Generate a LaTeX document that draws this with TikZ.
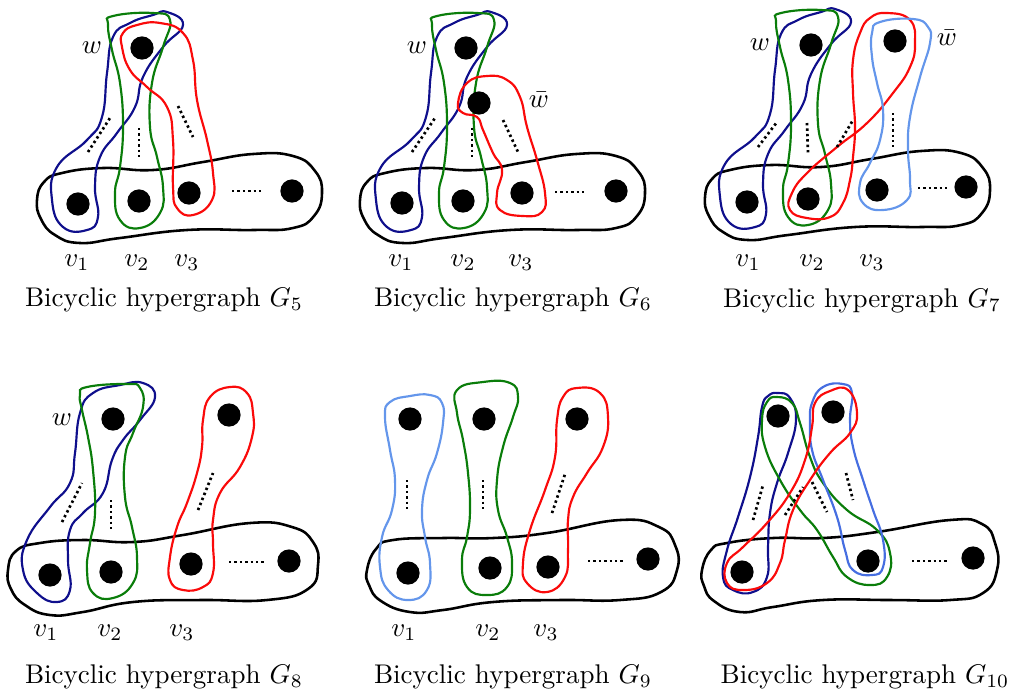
\documentclass[tikz,border=0pt]{standalone}
\usetikzlibrary{calc}
\definecolor{hblue}{RGB}{15,15,140}
\definecolor{hgreen}{RGB}{10,125,10}
\definecolor{hred}{RGB}{250,10,10}
\definecolor{hlight}{RGB}{100,150,235}
\definecolor{hroyal}{RGB}{70,110,225}
\tikzset{
  vert/.style={circle,fill=black,inner sep=0pt,minimum size=8.6pt},
  bigedge/.style={line width=0.95pt,black},
  hedge/.style={line width=0.8pt},
  dotline/.style={line width=1.0pt,dash pattern=on 0.9pt off 1.1pt},
  lbl/.style={inner sep=0pt},
  captxt/.style={inner sep=0pt},
  every plot/.style={smooth cycle,tension=0.8}
}
\begin{document}
\begin{tikzpicture}[x=0.37pt,y=-0.37pt]
\useasboundingbox (0,0) rectangle (1013,695);

% ---------------- G5 ----------------
\draw[bigedge] plot coordinates {(37,200)(44,182)(62,173)(103,168)(153,170)(203,162)(253,154)(293,156)(315,171)(322,193)(314,216)(293,228)(253,230)(187,230)(120,238)(80,243)(55,235)(41,219)};
\draw[hedge,hblue] plot coordinates {(183,25)(167,12)(153,15)(130,23)(113,37)(107,73)(102,117)(87,140)(57,167)(52,200)(63,227)(87,230)(98,217)(95,187)(100,157)(117,133)(135,107)(143,77)(163,47)};
\draw[hedge,hgreen] plot coordinates {(108,25)(113,16)(153,13)(170,20)(163,47)(152,83)(150,127)(157,157)(163,187)(160,213)(140,228)(120,220)(115,193)(120,167)(123,127)(120,83)(112,50)};
\draw[hedge,hred] plot coordinates {(123,33)(137,25)(160,23)(183,33)(193,60)(197,100)(207,140)(213,173)(212,200)(193,215)(177,208)(173,187)(173,140)(167,107)(147,87)(130,70)(122,47)};
\node[vert] (aw) at (142,48) {};
\node[vert] (a1) at (78,204) {};
\node[vert] (a2) at (139,201) {};
\node[vert] (a3) at (189,193) {};
\node[vert] (an) at (292,191) {};
\draw[dotline] (88,152) -- (110,118);
\draw[dotline] (139,128) -- (139,160);
\draw[dotline] (178,106) -- (193,137);
\draw[dotline] (232,191) -- (262,191);
\node[lbl] (awl) at (92,48) {$w$};
\node[lbl] (a1l) at (77,263) {$v_1$};
\node[lbl] (a2l) at (137,263) {$v_2$};
\node[lbl] (a3l) at (187,263) {$v_3$};
\node[captxt] (acap) at (164,300) {Bicyclic hypergraph $G_5$};

% ---------------- G6 ----------------
\begin{scope}[shift={(323,0)}]
\draw[bigedge] plot coordinates {(37,200)(44,182)(62,173)(103,168)(153,170)(203,162)(253,154)(293,156)(315,171)(322,193)(314,216)(293,228)(253,230)(187,230)(120,238)(80,243)(55,235)(41,219)};
\end{scope}
\begin{scope}[shift={(324,0)}]
\draw[hedge,hblue] plot coordinates {(183,25)(167,12)(153,15)(130,23)(113,37)(107,73)(102,117)(87,140)(57,167)(52,200)(63,227)(87,230)(98,217)(95,187)(100,157)(117,133)(135,107)(143,77)(163,47)};
\draw[hedge,hgreen] plot coordinates {(108,25)(113,16)(153,13)(170,20)(163,47)(152,83)(150,127)(157,157)(163,187)(160,213)(140,228)(120,220)(115,193)(120,167)(123,127)(120,83)(112,50)};
\end{scope}
\draw[hedge,hred] plot coordinates {(458,103)(467,83)(487,76)(507,80)(520,97)(527,127)(537,160)(545,193)(542,212)(523,216)(500,210)(497,193)(502,170)(493,153)(483,130)(477,117)(463,113)};
\node[vert] (bw) at (466,48) {};
\node[vert] (bb) at (479,103) {};
\node[vert] (b1) at (402,203) {};
\node[vert] (b2) at (463,201) {};
\node[vert] (b3) at (522,193) {};
\node[vert] (bn) at (616,191) {};
\draw[dotline] (412,152) -- (435,118);
\draw[dotline] (472,128) -- (472,159);
\draw[dotline] (503,120) -- (518,152);
\draw[dotline] (555,192) -- (586,192);
\node[lbl] (bwl) at (417,48) {$w$};
\node[lbl] (bbl) at (539,100) {$\bar{w}$};
\node[lbl] (b1l) at (401,263) {$v_1$};
\node[lbl] (b2l) at (463,263) {$v_2$};
\node[lbl] (b3l) at (521,263) {$v_3$};
\node[captxt] (bcap) at (513,300) {Bicyclic hypergraph $G_6$};

% ---------------- G7 ----------------
\begin{scope}[shift={(668,-3)}]
\draw[bigedge] plot coordinates {(37,200)(44,182)(62,173)(103,168)(153,170)(203,162)(253,154)(293,156)(315,171)(322,193)(314,216)(293,228)(253,230)(187,230)(120,238)(80,243)(55,235)(41,219)};
\draw[hedge,hblue] plot coordinates {(183,25)(167,12)(153,15)(130,23)(113,37)(107,73)(102,117)(87,140)(57,167)(52,200)(63,227)(87,230)(98,217)(95,187)(100,157)(117,133)(135,107)(143,77)(163,47)};
\draw[hedge,hgreen] plot coordinates {(108,25)(113,16)(153,13)(170,20)(163,47)(152,83)(150,127)(157,157)(163,187)(160,213)(140,228)(120,220)(115,193)(120,167)(123,127)(120,83)(112,50)};
\end{scope}
\draw[hedge,hred] plot coordinates {(887,13)(910,20)(915,43)(910,67)(893,93)(867,123)(837,147)(807,173)(792,193)(790,210)(807,218)(830,217)(843,203)(850,180)(853,157)(855,127)(853,93)(853,60)(860,33)(870,18)};
\draw[hedge,hlight] plot coordinates {(872,33)(880,22)(913,19)(928,27)(930,43)(920,77)(910,117)(908,150)(910,180)(907,200)(883,210)(863,203)(860,183)(870,163)(880,140)(883,110)(877,83)(872,57)};
\node[vert] (cw) at (811,45) {};
\node[vert] (cb) at (895,41) {};
\node[vert] (c1) at (747,202) {};
\node[vert] (c2) at (808,199) {};
\node[vert] (c3) at (877,190) {};
\node[vert] (cn) at (966,187) {};
\draw[dotline] (758,147) -- (777,122);
\draw[dotline] (807,123) -- (808,154);
\draw[dotline] (837,147) -- (853,120);
\draw[dotline] (893,113) -- (893,147);
\draw[dotline] (918,188) -- (947,188);
\node[lbl] (cwl) at (760,45) {$w$};
\node[lbl] (cbl) at (947,38) {$\bar{w}$};
\node[lbl] (c1l) at (748,263) {$v_1$};
\node[lbl] (c2l) at (812,263) {$v_2$};
\node[lbl] (c3l) at (872,263) {$v_3$};
\node[captxt] (ccap) at (862,301) {Bicyclic hypergraph $G_7$};

% ---------------- G8 ----------------
\draw[bigedge] plot coordinates {(8,570)(16,551)(40,543)(83,540)(133,542)(183,535)(250,523)(292,527)(313,542)(318,565)(308,589)(267,600)(200,600)(133,602)(83,612)(50,615)(25,605)(11,589)};
\draw[hedge,hblue] plot coordinates {(155,397)(143,383)(120,385)(93,393)(80,413)(75,453)(70,483)(50,507)(27,540)(23,570)(37,593)(57,602)(70,590)(68,560)(70,530)(83,513)(103,493)(112,460)(123,440)(140,420)};
\draw[hedge,hgreen] plot coordinates {(80,395)(87,387)(127,384)(140,388)(143,407)(133,433)(125,457)(125,497)(132,527)(137,557)(133,583)(113,598)(93,593)(87,570)(90,543)(95,513)(93,470)(88,437)(82,410)};
\draw[hedge,hred] plot coordinates {(230,387)(247,393)(253,413)(252,437)(240,467)(220,493)(213,520)(213,543)(213,573)(203,587)(183,590)(170,580)(170,557)(177,527)(187,503)(197,473)(202,447)(203,420)(210,397)};
\node[vert] (dw) at (113,419) {};
\node[vert] (dt) at (229,415) {};
\node[vert] (d1) at (50,575) {};
\node[vert] (d2) at (111,572) {};
\node[vert] (d3) at (191,564) {};
\node[vert] (dn) at (289,561) {};
\draw[dotline] (62,522) -- (82,483);
\draw[dotline] (111,500) -- (111,530);
\draw[dotline] (198,510) -- (213,473);
\draw[dotline] (229,562) -- (266,562);
\node[lbl] (dwl) at (62,420) {$w$};
\node[lbl] (d1l) at (46,633) {$v_1$};
\node[lbl] (d2l) at (110,633) {$v_2$};
\node[lbl] (d3l) at (182,633) {$v_3$};
\node[captxt] (dcap) at (164,677) {Bicyclic hypergraph $G_8$};

% ---------------- G9 ----------------
\draw[bigedge] plot coordinates {(367,570)(376,549)(393,540)(443,538)(493,538)(547,533)(620,520)(659,527)(675,545)(677,570)(661,592)(620,600)(560,600)(493,602)(443,610)(410,612)(381,601)(369,585)};
\draw[hedge,hlight] plot coordinates {(385,417)(390,402)(410,396)(430,395)(442,403)(443,423)(437,453)(427,480)(422,510)(425,537)(430,563)(427,590)(408,600)(388,590)(380,567)(382,537)(392,510)(395,480)(390,450)};
\draw[hedge,hgreen] plot coordinates {(457,390)(483,382)(510,383)(518,397)(513,417)(503,447)(497,480)(498,510)(507,537)(512,563)(507,587)(487,595)(467,587)(462,560)(467,537)(470,510)(468,473)(463,440)(457,413)};
\draw[hedge,hred] plot coordinates {(577,388)(600,393)(608,417)(603,447)(587,473)(573,497)(568,520)(568,550)(565,577)(547,592)(527,583)(523,563)(530,530)(545,490)(555,457)(557,420)(563,397)};
\node[vert] (e1t) at (410,419) {};
\node[vert] (e2t) at (484,419) {};
\node[vert] (e3t) at (577,419) {};
\node[vert] (e1) at (408,573) {};
\node[vert] (e2) at (490,568) {};
\node[vert] (e3) at (548,567) {};
\node[vert] (en) at (648,559) {};
\draw[dotline] (407,480) -- (407,510);
\draw[dotline] (483,480) -- (483,510);
\draw[dotline] (552,513) -- (565,474);
\draw[dotline] (588,561) -- (623,561);
\node[lbl] (e1l) at (404,633) {$v_1$};
\node[lbl] (e2l) at (488,633) {$v_2$};
\node[lbl] (e3l) at (546,633) {$v_3$};
\node[captxt] (ecap) at (513,677) {Bicyclic hypergraph $G_9$};

% ---------------- G10 ----------------
\draw[bigedge] plot coordinates {(702,570)(711,550)(727,543)(773,538)(823,538)(877,532)(950,520)(982,524)(995,543)(997,570)(983,593)(950,600)(890,600)(823,600)(773,607)(740,612)(714,601)(704,586)};
\draw[hedge,hblue] plot coordinates {(778,393)(790,398)(796,420)(788,453)(777,483)(770,513)(768,547)(767,577)(753,592)(733,590)(723,577)(727,550)(738,517)(750,477)(758,437)(762,407)(768,396)};
\draw[hedge,hgreen] plot coordinates {(777,397)(792,403)(800,423)(810,457)(823,483)(847,510)(877,530)(890,553)(887,577)(870,585)(847,577)(833,557)(817,530)(800,510)(780,480)(765,447)(762,420)(767,402)};
\draw[hedge,hroyal] plot coordinates {(812,403)(823,387)(843,384)(852,393)(850,420)(853,447)(863,480)(873,510)(883,540)(883,567)(872,575)(853,570)(845,550)(837,517)(823,480)(812,450)(810,423)};
\draw[hedge,hred] plot coordinates {(815,403)(830,391)(848,390)(857,413)(850,433)(830,453)(810,480)(793,510)(785,540)(780,563)(767,583)(743,590)(727,583)(727,563)(743,547)(767,523)(790,493)(805,460)(812,427)};
\node[vert] (ft1) at (778,416) {};
\node[vert] (ft2) at (833,412) {};
\node[vert] (f1) at (742,572) {};
\node[vert] (f2) at (868,561) {};
\node[vert] (fn) at (973,558) {};
\draw[dotline] (753,520) -- (763,485);
\draw[dotline] (785,515) -- (803,487);
\draw[dotline] (812,482) -- (827,512);
\draw[dotline] (846,473) -- (853,500);
\draw[dotline] (912,561) -- (947,561);
\node[captxt] (fcap) at (865,677) {Bicyclic hypergraph $G_{10}$};
\end{tikzpicture}
\end{document}
